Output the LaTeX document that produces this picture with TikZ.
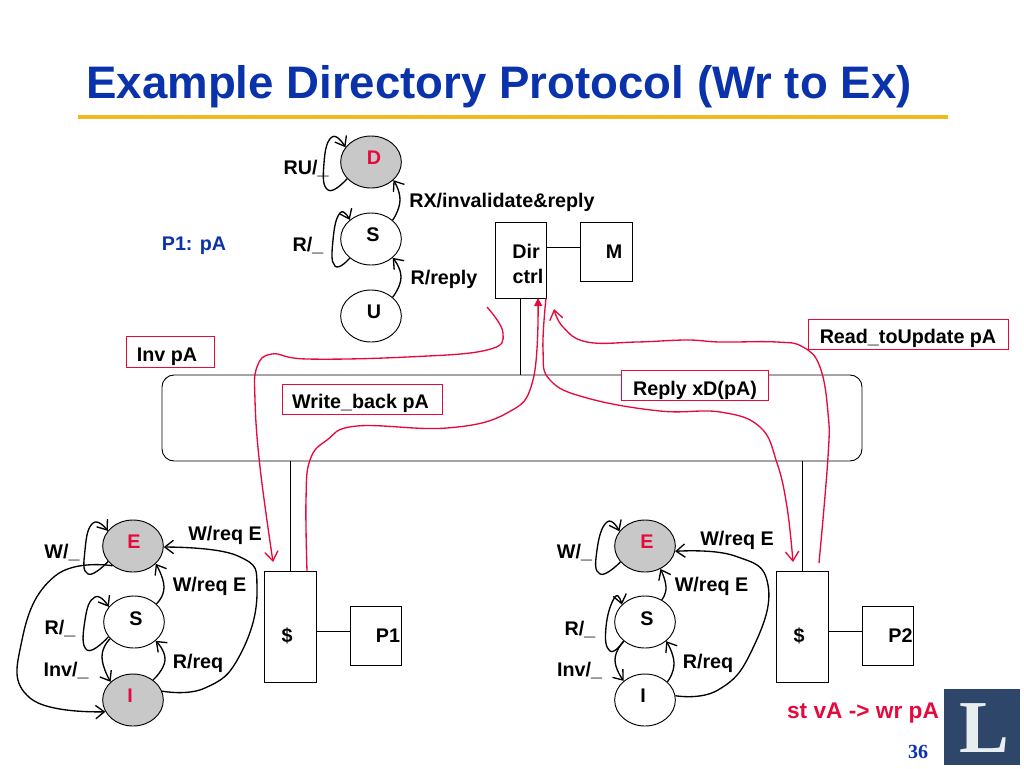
\documentclass[tikz,border=0pt]{standalone}
\usepackage{fontspec}
\setmainfont{Liberation Sans}
\newfontfamily\numfont{Liberation Serif}
\usetikzlibrary{arrows.meta,shapes.geometric}
\definecolor{titleblue}{RGB}{10,50,170}
\definecolor{linkred}{RGB}{230,10,60}
\definecolor{goldline}{RGB}{245,184,28}
\definecolor{stategray}{RGB}{200,200,200}
\definecolor{logoblue}{RGB}{45,70,105}
\definecolor{logowhite}{RGB}{232,238,240}
\tikzset{
	txt/.style={anchor=base,inner sep=0pt,font=\fontsize{14.8}{18}\selectfont\bfseries},
	redtxt/.style={txt,text=linkred},
	state/.style={draw,ellipse,minimum width=45.5pt,minimum height=39pt,inner sep=0pt,line width=0.7pt},
	grstate/.style={state,fill=stategray},
	boxx/.style={draw,inner sep=0pt,line width=0.7pt},
	redbox/.style={draw=linkred,fill=white,inner sep=0pt,line width=0.65pt},
	fsm/.style={-{Straight Barb[length=6.5pt,width=10pt]},line width=1pt},
	wire/.style={line width=0.7pt},
	msg/.style={-{Straight Barb[length=7pt,width=10pt]},draw=linkred,line width=1pt},
}
\begin{document}
\begin{tikzpicture}[x=0.75pt,y=-0.75pt]
	\useasboundingbox (0,0) rectangle (1024,768);
	\node[anchor=base,inner sep=0pt,text=titleblue,font=\fontsize{34.2}{40}\selectfont\bfseries] (title) at (499,98) {Example Directory Protocol (Wr to Ex)};
	\coordinate (ruleL) at (78,117);
	\coordinate (ruleR) at (948,117);
	\draw[goldline,line width=3pt] (ruleL) -- (ruleR);
	% boxes
	\node[boxx,minimum width=700*0.75pt,minimum height=86*0.75pt,rounded corners=9pt] (bus) at (512,418) {};
	\node[boxx,minimum width=51*0.75pt,minimum height=76*0.75pt] (dir) at (520.5,260) {};
	\node[boxx,minimum width=52*0.75pt,minimum height=59*0.75pt] (mem) at (606,251.5) {};
	\node[boxx,minimum width=52*0.75pt,minimum height=111*0.75pt] (cacheA) at (290,626.5) {};
	\node[boxx,minimum width=51*0.75pt,minimum height=59*0.75pt] (procA) at (375.5,635.5) {};
	\node[boxx,minimum width=52*0.75pt,minimum height=111*0.75pt] (cacheB) at (802,626.5) {};
	\node[boxx,minimum width=51*0.75pt,minimum height=59*0.75pt] (procB) at (887.5,635.5) {};
	\coordinate (dirm) at (546,247);
	\coordinate (linkA) at (316,631);
	\coordinate (linkB) at (828,631);
	\draw[wire] (dirm) -- (dirm -| mem.west);
	\draw[wire] (linkA) -- (linkA -| procA.west);
	\draw[wire] (linkB) -- (linkB -| procB.west);
	\draw[wire] (dir.south) -- (bus.north -| dir.south);
	\draw[wire] (cacheA.north) -- (bus.south -| cacheA.north);
	\draw[wire] (cacheB.north) -- (bus.south -| cacheB.north);
	\node[txt] (dirt) at (526,258) {Dir};
	\node[txt] (ctrlt) at (528,283) {ctrl};
	\node[txt] (memt) at (614,258) {M};
	\node[txt] (cacheAt) at (287,642) {\$};
	\node[txt] (procAt) at (388,642) {P1};
	\node[txt] (cacheBt) at (799,642) {\$};
	\node[txt] (procBt) at (900.5,642) {P2};
	% directory
	\node[grstate] (D) at (371,162) {};
	\node[state] (S) at (371,239) {};
	\node[state] (U) at (371,316) {};
	\node[redtxt] (Dt) at (374,164) {D};
	\node[txt] (St) at (373,241) {S};
	\node[txt] (Ut) at (374,318) {U};
	\draw[fsm] plot[smooth,tension=0.9] coordinates {(D.215) (328,190) (324,163) (332,137) (D.150)};
	\draw[fsm] plot[smooth,tension=0.9] coordinates {(S.222) (335,266) (333,240) (340,213) (S.138)};
	\draw[fsm] plot[smooth,tension=0.9] coordinates {(S.41) (400,200) (D.-39)};
	\draw[fsm] plot[smooth,tension=0.9] coordinates {(U.41) (401,277) (S.-41)};
	\node[txt] (ru) at (306,174) {RU/\_};
	\node[txt] (rx) at (502,207) {RX/invalidate\&reply};
	\node[txt] (rs) at (308,251) {R/\_};
	\node[txt] (rr) at (444,284) {R/reply};
	\node[txt,text=titleblue] (pone) at (194,250) {P1: pA};
	% P1 states
	\node[grstate] (Ea) at (133,546) {};
	\node[state] (Sa) at (134,622) {};
	\node[grstate] (Ia) at (133,700) {};
	\node[redtxt] (Eat) at (134,548) {E};
	\node[txt] (Sat) at (136,625) {S};
	\node[redtxt] (Iat) at (130,702) {I};
	\draw[fsm] plot[smooth,tension=0.9] coordinates {(Ea.212) (88,574) (85,550) (93,523) (Ea.149)};
	\draw[fsm] plot[smooth,tension=0.9] coordinates {(Sa.210) (87,650) (85,620) (95,597) (Sa.149)};
	\draw[fsm] plot[smooth,tension=0.9] coordinates {(Sa.39) (164,587) (Ea.-38)};
	\draw[fsm] plot[smooth,tension=0.9] coordinates {(Ia.45) (165,660) (Sa.-41)};
	\draw[fsm] plot[smooth,tension=0.9] coordinates {(Sa.215) (102,657) (Ia.141)};
	\draw[fsm] plot[smooth,tension=0.8] coordinates {(Ia.17) (205,688) (240,655) (257,590) (238,556) (Ea.-2)};
	\draw[fsm] plot[smooth,tension=0.8] coordinates {(Ea.224) (55,576) (22,640) (30,698) (Ia.203)};
	\node[txt] (wa) at (62,558) {W/\_};
	\node[txt] (wea) at (225,540) {W/req E};
	\node[txt] (wfa) at (209.5,591) {W/req E};
	\node[txt] (ra) at (60,634) {R/\_};
	\node[txt] (inva) at (66,676) {Inv/\_};
	\node[txt] (rqa) at (198,668) {R/req};
	% P2 states
	\node[grstate] (Eb) at (645,546) {};
	\node[state] (Sb) at (645,622) {};
	\node[state] (Ib) at (645,700) {};
	\node[redtxt] (Ebt) at (647,548) {E};
	\node[txt] (Sbt) at (647,625) {S};
	\node[txt] (Ibt) at (643,702) {I};
	\draw[fsm] plot[smooth,tension=0.9] coordinates {(Eb.213) (600,574) (597,550) (607,522) (Eb.150)};
	\draw[fsm] plot[smooth,tension=0.9] coordinates {(Sb.222) (610,651) (606,627) (615,597) (Sb.143)};
	\draw[fsm] plot[smooth,tension=0.9] coordinates {(Sb.53) (666,587) (Eb.-56)};
	\draw[fsm] plot[smooth,tension=0.9] coordinates {(Ib.39) (674,663) (Sb.-42)};
	\draw[fsm] plot[smooth,tension=0.9] coordinates {(Sb.222) (615,660) (Ib.138)};
	\draw[fsm] plot[smooth,tension=0.8] coordinates {(Ib.8) (718,690) (752,650) (768,585) (735,556) (Eb.-10)};
	\node[txt] (wb) at (574.5,558) {W/\_};
	\node[txt] (web) at (737,545) {W/req E};
	\node[txt] (wfb) at (711.5,591) {W/req E};
	\node[txt] (rb) at (580,635) {R/\_};
	\node[txt] (invb) at (579.5,676) {Inv/\_};
	\node[txt] (rqb) at (708,668) {R/req};
	% messages
	\coordinate (invS) at (487,307);
	\coordinate (invE) at (273,562);
	\coordinate (wbS) at (307,571);
	\coordinate (wbE) at (538,298);
	\coordinate (repS) at (546,298);
	\coordinate (repE) at (793,562);
	\coordinate (rdS) at (819,563);
	\coordinate (rdE) at (554,309);
	\draw[msg] plot[smooth,tension=0.7] coordinates {(invS) (503,333) (487,350) (407,357) (307,359) (272,354) (257,367) (255,400) (260,467) (invE)};
	\draw[msg,-{Triangle[length=6pt,width=6pt]}] plot[smooth,tension=0.7] coordinates {(wbS) (306,500) (310,460) (327,440) (357,426) (447,428) (507,413) (533,380) (wbE)};
	\draw[msg] plot[smooth,tension=0.7] coordinates {(repS) (543,350) (550,380) (587,398) (660,411) (720,412) (760,427) (777,463) (787,507) (repE)};
	\draw[msg] plot[smooth,tension=0.7] coordinates {(rdS) (828,457) (828,413) (820,367) (803,347) (777,342) (720,342) (687,340) (637,342) (587,342) (563,327) (rdE)};
	\node[redbox,minimum width=88*0.75pt,minimum height=31*0.75pt] (invx) at (170,351.5) {};
	\node[redbox,minimum width=160*0.75pt,minimum height=30*0.75pt] (wbx) at (362,399) {};
	\node[redbox,minimum width=147*0.75pt,minimum height=30*0.75pt] (repx) at (694.5,385) {};
	\node[redbox,minimum width=200*0.75pt,minimum height=30*0.75pt] (rdx) at (908,334) {};
	\node[txt] (invt) at (167,361) {Inv pA};
	\node[txt] (wbt) at (360.5,408) {Write\_back pA};
	\node[txt] (rept) at (695,395) {Reply xD(pA)};
	\node[txt] (rdt) at (908,343) {Read\_toUpdate pA};
	% corner
	\node[redtxt,font=\fontsize{17}{20}\selectfont\bfseries] (st) at (863,718) {st vA -> wr pA};
	\node[draw=none,fill=logoblue,minimum width=76*0.75pt,minimum height=76*0.75pt,inner sep=0pt] (logo) at (982,727) {};
	\node[anchor=base,inner sep=0pt,text=logowhite,font=\numfont\fontsize{56}{60}\selectfont\bfseries] (logot) at (984,752) {L};
	\node[anchor=base,inner sep=0pt,text=titleblue,font=\numfont\fontsize{15}{18}\selectfont\bfseries] (page) at (918,758) {36};
\end{tikzpicture}
\end{document}
